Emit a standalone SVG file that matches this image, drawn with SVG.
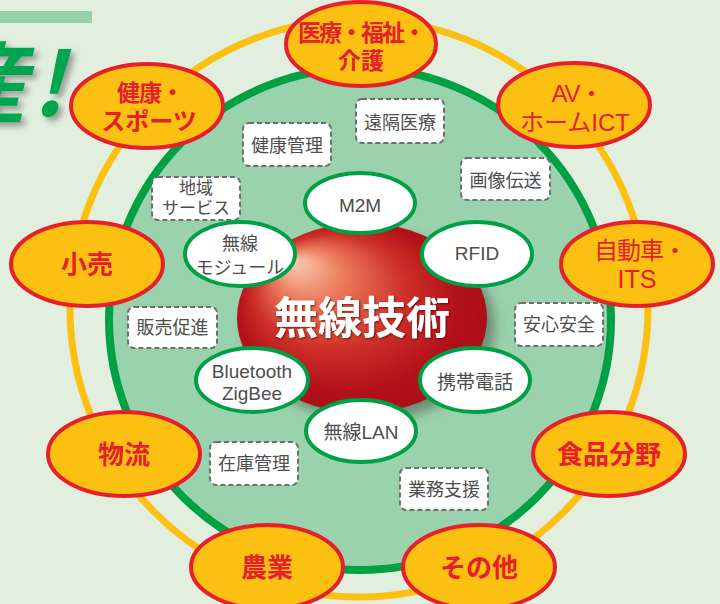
<svg xmlns="http://www.w3.org/2000/svg" width="720" height="604" viewBox="0 0 720 604">
<defs>
<radialGradient id="sph" cx="0.5" cy="0.5" r="0.55" fx="0.22" fy="0.2">
<stop offset="0" stop-color="#fbcdb8"/>
<stop offset="0.25" stop-color="#ec7a5a"/>
<stop offset="0.55" stop-color="#cc3028"/>
<stop offset="0.8" stop-color="#b3111a"/>
<stop offset="1" stop-color="#a80e17"/>
</radialGradient>
<filter id="blur" x="-20%" y="-20%" width="140%" height="140%"><feGaussianBlur stdDeviation="6"/></filter>
<filter id="tsh" x="-20%" y="-20%" width="140%" height="140%"><feDropShadow dx="4" dy="4" stdDeviation="3" flood-color="#555" flood-opacity="0.55"/></filter>
<filter id="wsh" x="-10%" y="-10%" width="120%" height="130%"><feDropShadow dx="1" dy="1" stdDeviation="1" flood-color="#400" flood-opacity="0.7"/></filter>
<style>
.out ellipse{fill:#fcc013;stroke:#e6202b;stroke-width:4}
.out text{fill:#e6202b;font-family:"Liberation Sans","Noto Sans CJK JP",sans-serif;font-weight:bold;text-anchor:middle}
.in ellipse{fill:#fff;stroke:#00a045;stroke-width:4}
.in text{fill:#4d4d4d;font-family:"Liberation Sans","Noto Sans CJK JP",sans-serif;font-size:19px;text-anchor:middle}
.box rect{fill:#fff;stroke:#6e6e6e;stroke-width:2;stroke-dasharray:5 3}
.box text{fill:#4d4d4d;font-family:"Noto Sans CJK JP",sans-serif;font-size:18px;text-anchor:middle}
</style>
</defs>
<rect width="720" height="604" fill="#e2efdf"/>
<rect x="0" y="11" width="92" height="12" fill="#98d0ab"/>
<g id="title" filter="url(#tsh)" fill="#00a650" font-family="Noto Sans CJK JP,sans-serif" font-weight="bold" font-size="88" font-style="italic">
<text x="-62" y="116">産</text>
<text x="32" y="116">!</text>
</g>
<circle cx="359" cy="308" r="289" fill="none" stroke="#fcc013" stroke-width="7"/>
<circle cx="360" cy="319" r="251" fill="#9bd2ae" stroke="#00a045" stroke-width="8"/>

<g id="sphere">
<ellipse cx="370" cy="326" rx="125" ry="95" fill="#2a3a2a" opacity="0.45" filter="url(#blur)"/>
<ellipse cx="362" cy="318" rx="125" ry="95" fill="url(#sph)"/>
<text x="362" y="334" fill="#fff" font-family="Noto Sans CJK JP,sans-serif" font-weight="bold" font-size="44" text-anchor="middle" filter="url(#wsh)">無線技術</text>
</g>

<g id="box-enkaku" class="box"><rect x="356" y="99" width="88" height="44" rx="6"/><text x="400" y="129">遠隔医療</text></g>
<g id="box-kenkokanri" class="box"><rect x="243" y="123" width="88" height="43" rx="6"/><text x="287" y="152">健康管理</text></g>
<g id="box-gazo" class="box"><rect x="461" y="158" width="89" height="42" rx="6"/><text x="505.5" y="187">画像伝送</text></g>
<g id="box-chiiki" class="box"><rect x="152" y="177" width="88" height="43" rx="6"/><text x="196" y="194" style="font-size:17px">地域</text><text x="196" y="214" style="font-size:17px">サービス</text></g>
<g id="box-hanbai" class="box"><rect x="128" y="307" width="89" height="41" rx="6"/><text x="172.5" y="334">販売促進</text></g>
<g id="box-anshin" class="box"><rect x="515" y="303" width="88" height="43" rx="6"/><text x="559" y="331">安心安全</text></g>
<g id="box-zaiko" class="box"><rect x="210" y="442" width="88" height="43" rx="6"/><text x="254" y="470">在庫管理</text></g>
<g id="box-gyomu" class="box"><rect x="400" y="468" width="88" height="42" rx="6"/><text x="444" y="496">業務支援</text></g>

<g id="node-m2m" class="in"><ellipse cx="360" cy="203" rx="55" ry="30"/><text x="360" y="212">M2M</text></g>
<g id="node-rfid" class="in"><ellipse cx="477" cy="254" rx="55" ry="32"/><text x="477" y="260">RFID</text></g>
<g id="node-module" class="in"><ellipse cx="240" cy="254" rx="55" ry="32"/><text x="240" y="250" style="font-size:18px">無線</text><text x="240" y="274" style="font-size:18px">モジュール</text></g>
<g id="node-bt" class="in"><ellipse cx="252" cy="380" rx="56" ry="32"/><text x="252" y="378">Bluetooth</text><text x="252" y="400">ZigBee</text></g>
<g id="node-keitai" class="in"><ellipse cx="475" cy="380" rx="55" ry="32"/><text x="475" y="389">携帯電話</text></g>
<g id="node-lan" class="in"><ellipse cx="361" cy="431" rx="55" ry="31"/><text x="361" y="439">無線LAN</text></g>

<g id="field-iryo" class="out"><ellipse cx="361" cy="44" rx="75" ry="42"/><text x="361" y="41" style="font-size:23px;letter-spacing:-2px">医療・福祉・</text><text x="361" y="69" style="font-size:23px">介護</text></g>
<g id="field-kenko" class="out"><ellipse cx="147" cy="106" rx="76" ry="42"/><text x="150" y="101" style="font-size:23px;letter-spacing:-1px">健康・</text><text x="149" y="130" style="font-size:24px">スポーツ</text></g>
<g id="field-av" class="out"><ellipse cx="574" cy="105" rx="76" ry="42"/><text x="577" y="102" style="font-size:24px;font-weight:normal;letter-spacing:-1px">AV・</text><text x="575" y="131" style="font-size:24px;font-weight:normal">ホームICT</text></g>
<g id="field-kouri" class="out"><ellipse cx="87" cy="264" rx="76" ry="42"/><text x="87" y="274" style="font-size:26px">小売</text></g>
<g id="field-jidosha" class="out"><ellipse cx="637" cy="264" rx="76" ry="42"/><text x="640" y="259" style="font-size:24px;font-weight:normal;letter-spacing:-1px">自動車・</text><text x="637" y="288" style="font-size:25px;font-weight:normal">ITS</text></g>
<g id="field-butsuryu" class="out"><ellipse cx="124" cy="454" rx="76" ry="42"/><text x="124" y="464" style="font-size:26px">物流</text></g>
<g id="field-shokuhin" class="out"><ellipse cx="609" cy="454" rx="76" ry="42"/><text x="609" y="464" style="font-size:26px">食品分野</text></g>
<g id="field-nogyo" class="out"><ellipse cx="267" cy="567" rx="76" ry="42"/><text x="267" y="577" style="font-size:26px">農業</text></g>
<g id="field-sonota" class="out"><ellipse cx="479" cy="567" rx="76" ry="42"/><text x="479" y="577" style="font-size:26px">その他</text></g>
</svg>
